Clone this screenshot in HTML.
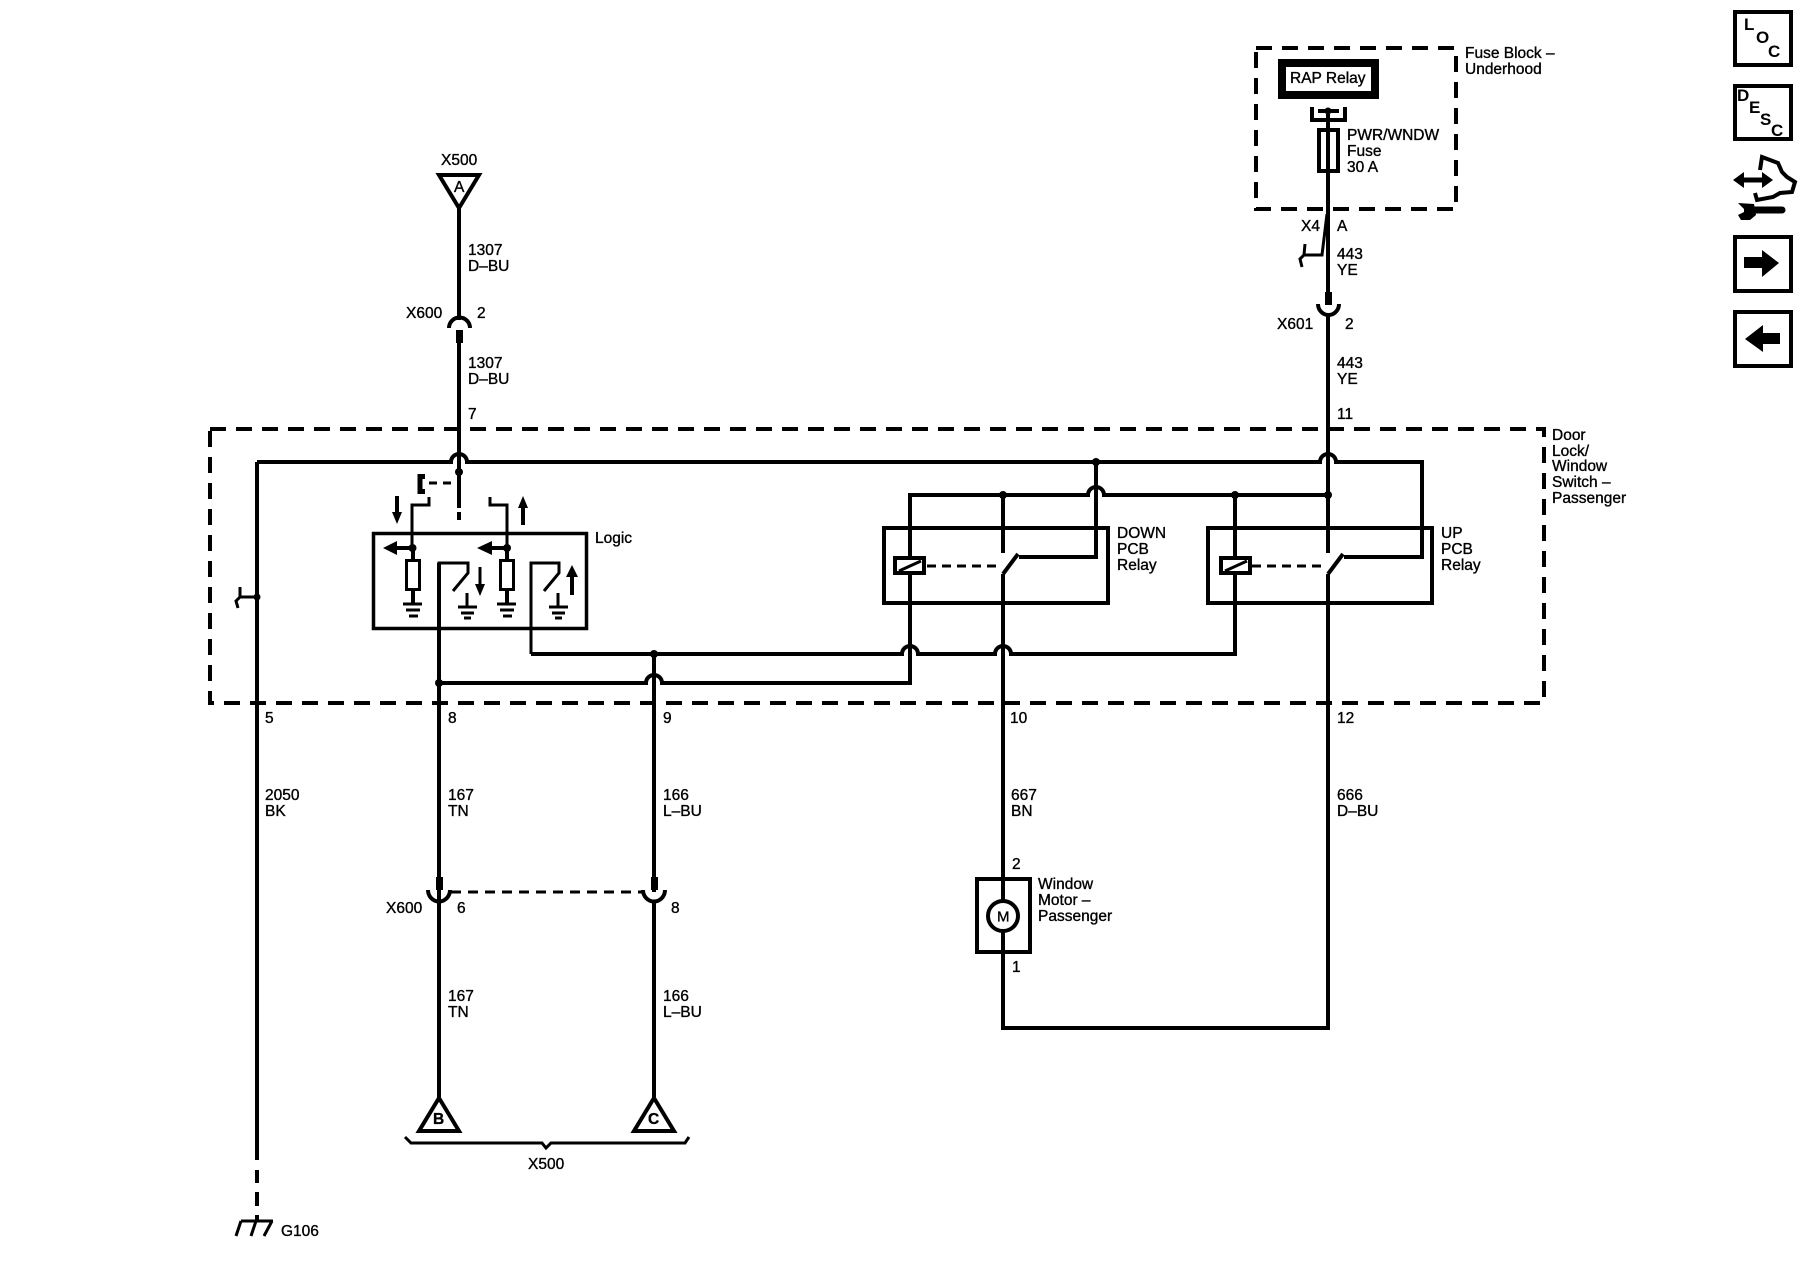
<!DOCTYPE html>
<html>
<head>
<meta charset="utf-8">
<title>Window Switch Schematic</title>
<style>
html,body{margin:0;padding:0;background:#fff;width:1800px;height:1280px;overflow:hidden}
svg{display:block}
text{font-family:"Liberation Sans",sans-serif;font-size:15.5px;fill:#000;stroke:#000;stroke-width:.35}
.w{fill:none;stroke:#000;stroke-width:4}
.t{fill:none;stroke:#000;stroke-width:3}
.d{fill:none;stroke:#000;stroke-width:4;stroke-dasharray:16 10}
.b{fill:#000;stroke:none}
.ic{font-size:17px;font-weight:bold;stroke:none}
</style>
</head>
<body>
<svg width="1800" height="1280" viewBox="0 0 1800 1280" xmlns="http://www.w3.org/2000/svg">
<rect width="1800" height="1280" fill="#fff"/>

<!-- dashed housings -->
<rect class="d" x="1256" y="48" width="200" height="161"/>
<rect class="d" x="210" y="429" width="1334" height="274"/>

<!-- Fuse block -->
<rect x="1282" y="63" width="93" height="32" fill="#fff" stroke="#000" stroke-width="8"/>
<text x="1290" y="83">RAP Relay</text>
<path class="w" d="M1312 107V120H1345V107"/>
<path class="w" d="M1318 111H1339"/>
<circle class="b" cx="1328" cy="111" r="3.500"/>
<path class="w" d="M1328 111V296"/>
<rect class="w" x="1319" y="130" width="19" height="41" fill="none"/>
<text x="1347" y="140">PWR/WNDW</text>
<text x="1347" y="156">Fuse</text>
<text x="1347" y="172">30 A</text>
<text x="1465" y="58">Fuse Block –</text>
<text x="1465" y="74">Underhood</text>
<text x="1301" y="231">X4</text>
<text x="1337" y="231">A</text>
<path class="t" d="M1327 214L1322 255H1304M1305 244L1304 255L1300 259L1302 267"/>
<text x="1337" y="259">443</text>
<text x="1337" y="275">YE</text>
<rect class="b" x="1325" y="292" width="7" height="13"/>
<path class="w" d="M1318 304A10.500 11 0 0 0 1339 304"/>
<text x="1277" y="329">X601</text>
<text x="1345" y="329">2</text>
<text x="1337" y="368">443</text>
<text x="1337" y="384">YE</text>
<text x="1337" y="419">11</text>

<!-- Wire 1328 -->
<path class="w" d="M1328 315V553M1328 574V1030"/>

<!-- A wire -->
<text x="441" y="165">X500</text>
<path class="w" d="M439 175H479L459 208Z" fill="none"/>
<text x="454" y="192">A</text>
<path class="w" d="M459 208V320"/>
<path class="w" d="M449 328A10.500 10.500 0 0 1 470 328"/>
<rect class="b" x="456" y="330" width="7" height="13"/>
<path class="w" d="M459 340V508M459 512V520"/>
<text x="468" y="255">1307</text>
<text x="468" y="271">D–BU</text>
<text x="406" y="318">X600</text>
<text x="477" y="318">2</text>
<text x="468" y="368">1307</text>
<text x="468" y="384">D–BU</text>
<text x="468" y="419">7</text>

<!-- main bus -->
<path class="w" d="M257 462H451A8 8 0 0 1 467 462H1320A8 8 0 0 1 1336 462H1422V557H1344"/>
<circle class="b" cx="459" cy="472" r="4"/>
<circle class="b" cx="1096" cy="462" r="4"/>

<!-- contact E -->
<path d="M425 476.500H420V491.500H425" fill="none" stroke="#000" stroke-width="5"/>
<path class="t" stroke-dasharray="8 6" d="M429 483H458"/>
<path class="t" d="M429 497V505H412V548"/>
<path class="t" d="M490 497V505H507V548"/>
<path class="w" d="M397 496V512"/>
<path class="b" d="M392 512H402L397 524Z"/>
<path class="w" d="M523 525V508"/>
<path class="b" d="M518 508H528L523 496Z"/>

<!-- Logic box -->
<rect x="373.500" y="533.500" width="213" height="95" fill="none" stroke="#000" stroke-width="3.500"/>
<text x="595" y="543">Logic</text>
<circle class="b" cx="412.500" cy="548" r="4"/>
<circle class="b" cx="507" cy="548" r="4"/>
<path class="w" d="M412 548H395M505 548H490"/>
<path class="b" d="M383 548L397 541V555Z"/>
<path class="b" d="M477 548L492 541V555Z"/>
<path class="w" d="M413 548V560M507 548V560"/>
<rect class="t" x="406.500" y="560.500" width="13" height="29"/>
<rect class="t" x="500.500" y="560.500" width="13" height="29"/>
<path class="w" d="M413 590V604M507 590V604"/>
<path class="t" d="M403 604H422"/>
<path class="t" d="M406 610H420"/>
<path class="t" d="M409 616H418"/>
<path class="t" d="M497 604H516"/>
<path class="t" d="M500 610H514"/>
<path class="t" d="M503 616H512"/>
<!-- switches -->
<path class="w" d="M439 702V563"/>
<path class="t" d="M437.500 563H468V573L453 591"/>
<path class="t" d="M467 593V607M458 607H477"/>
<path class="t" d="M461 613H474M464 618H471"/>
<path class="t" d="M480 567V585"/>
<path class="b" d="M475 584H485L480 596Z"/>
<path class="t" d="M531 654V563H559V573L544 591"/>
<path class="t" d="M558 593V607M549 607H568"/>
<path class="t" d="M552 613H565M555 618H562"/>
<path class="w" d="M572 577V595"/>
<path class="b" d="M566 577H578L572 565Z"/>

<!-- cross wires -->
<path class="w" d="M531 654H902A8 8 0 0 1 918 654H995A8 8 0 0 1 1011 654H1235V495"/>
<path class="w" d="M439 683H646A8 8 0 0 1 662 683H910V495H1088A8 8 0 0 1 1104 495H1328"/>
<path class="w" d="M1096 462V557H1019"/>
<path class="w" d="M1003 495V553M1003 574V1028H1328"/>
<circle class="b" cx="654" cy="654" r="4"/>
<circle class="b" cx="439" cy="683" r="4"/>
<circle class="b" cx="1003" cy="495" r="4"/>
<circle class="b" cx="1235" cy="495" r="4"/>
<circle class="b" cx="1328" cy="495" r="4"/>
<path class="w" d="M654 654V892M654 900V1097"/>
<path class="w" d="M439 702V1097"/>

<!-- Relays -->
<rect class="w" x="884" y="528" width="224" height="75"/>
<rect class="w" x="1208" y="528" width="224" height="75"/>
<rect x="895" y="558" width="29" height="15" fill="#fff" stroke="#000" stroke-width="4"/>
<path class="t" d="M899 571L921 561"/>
<rect x="1221" y="558" width="29" height="15" fill="#fff" stroke="#000" stroke-width="4"/>
<path class="t" d="M1225 571L1247 561"/>
<path class="t" stroke-dasharray="9 6" d="M927 566H1000"/>
<path class="t" stroke-dasharray="9 6" d="M1252 566H1325"/>
<path class="w" d="M1003 574L1018 554"/>
<path class="w" d="M1328 574L1343 554"/>
<text x="1117" y="538">DOWN</text>
<text x="1117" y="554">PCB</text>
<text x="1117" y="570">Relay</text>
<text x="1441" y="538">UP</text>
<text x="1441" y="554">PCB</text>
<text x="1441" y="570">Relay</text>
<text x="1552" y="440">Door</text>
<text x="1552" y="456">Lock/</text>
<text x="1552" y="471">Window</text>
<text x="1552" y="487">Switch –</text>
<text x="1552" y="503">Passenger</text>

<!-- Ground wire -->
<path class="w" d="M257 462V1160M257 1170V1183M257 1192V1206M257 1215V1221"/>
<circle class="b" cx="257" cy="597" r="3.500"/>
<path class="t" d="M257 597H241M240 587V597L236 601L238 608"/>
<path class="t" d="M241 1221H273M241 1221L236 1236M256 1221L251 1236M272 1221L264 1236"/>
<text x="281" y="1236">G106</text>

<!-- pin labels -->
<text x="265" y="723">5</text>
<text x="448" y="723">8</text>
<text x="663" y="723">9</text>
<text x="1010" y="723">10</text>
<text x="1337" y="723">12</text>
<text x="265" y="800">2050</text>
<text x="265" y="816">BK</text>
<text x="448" y="800">167</text>
<text x="448" y="816">TN</text>
<text x="663" y="800">166</text>
<text x="663" y="816">L–BU</text>
<text x="1011" y="800">667</text>
<text x="1011" y="816">BN</text>
<text x="1337" y="800">666</text>
<text x="1337" y="816">D–BU</text>

<!-- X600 lower -->
<rect class="b" x="436" y="877" width="7" height="13"/>
<rect class="b" x="651" y="877" width="7" height="13"/>
<path class="w" d="M428 890A11 11.500 0 0 0 450 890"/>
<path class="w" d="M643 890A11 11.500 0 0 0 665 890"/>
<path class="t" stroke-dasharray="10 7" d="M451 892H643"/>
<text x="386" y="913">X600</text>
<text x="457" y="913">6</text>
<text x="671" y="913">8</text>
<text x="448" y="1001">167</text>
<text x="448" y="1017">TN</text>
<text x="663" y="1001">166</text>
<text x="663" y="1017">L–BU</text>

<!-- triangles -->
<path class="w" d="M439 1098L459 1131H419Z" fill="none"/>
<path class="w" d="M654 1098L674 1131H634Z" fill="none"/>
<text x="433" y="1124" font-weight="bold">B</text>
<text x="648" y="1124" font-weight="bold">C</text>
<path class="t" d="M405 1137L411 1143H542L546 1148L551 1143H685L689 1137"/>
<text x="528" y="1169">X500</text>

<!-- Motor -->
<rect class="w" x="977" y="879" width="53" height="73"/>
<circle cx="1003" cy="916" r="15" fill="#fff" stroke="#000" stroke-width="4"/>
<text x="997" y="921.500" style="font-size:15px">M</text>
<text x="1012" y="869">2</text>
<text x="1012" y="972">1</text>
<text x="1038" y="889">Window</text>
<text x="1038" y="905">Motor –</text>
<text x="1038" y="921">Passenger</text>

<!-- Right icons -->
<rect class="w" x="1735" y="12" width="56" height="53"/>
<text class="ic" x="1744" y="30">L</text>
<text class="ic" x="1756" y="43">O</text>
<text class="ic" x="1768" y="57">C</text>
<rect class="w" x="1735" y="86" width="56" height="53"/>
<text class="ic" x="1737" y="101">D</text>
<text class="ic" x="1749" y="113">E</text>
<text class="ic" x="1760" y="125">S</text>
<text class="ic" x="1771" y="136">C</text>

<path d="M1741 180H1766" fill="none" stroke="#000" stroke-width="5"/>
<path class="b" d="M1733 180L1744 172V188Z"/>
<path class="b" d="M1773 180L1762 172V188Z"/>
<path class="w" d="M1760 170L1762 157L1770 160L1778 163L1782 172L1787 177L1795 182L1792 192L1780 193L1773 197L1757 200L1755 193"/>
<path d="M1748 210H1782" stroke="#000" stroke-width="7" stroke-linecap="round" fill="none"/>
<path class="b" d="M1754 204L1738 203L1744 209L1744 212L1738 215L1741 220L1750 220L1756 215Z"/>

<rect class="w" x="1735" y="237" width="56" height="54"/>
<path class="b" d="M1744 257H1762V250L1779 263L1762 277V268H1744Z"/>
<rect class="w" x="1735" y="312" width="56" height="54"/>
<path class="b" d="M1780 333H1763V325L1745 339L1763 352V344H1780Z"/>
</svg>
</body>
</html>
